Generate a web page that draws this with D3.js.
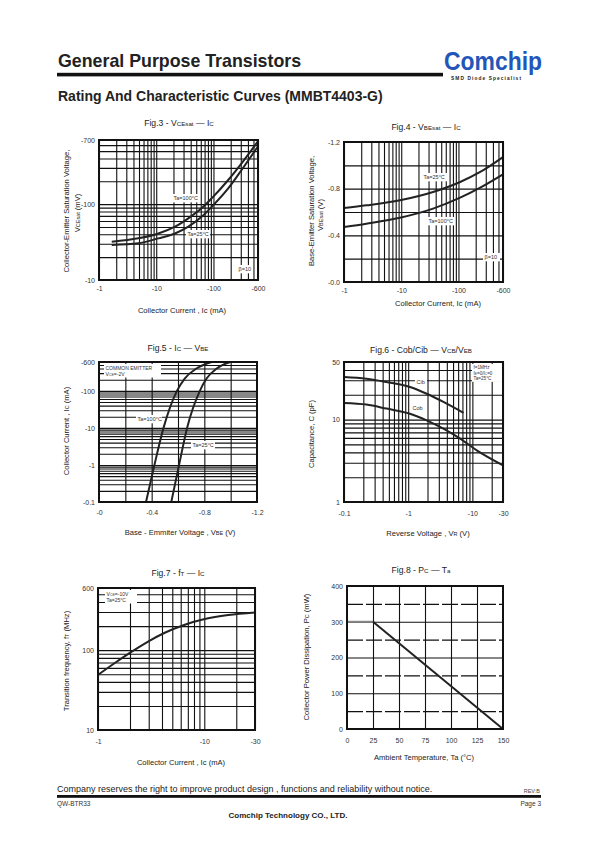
<!DOCTYPE html>
<html><head><meta charset="utf-8">
<script src="https://cdn.jsdelivr.net/npm/d3@7"></script>
<style>body{margin:0;background:#fff}svg{display:block;font-family:"Liberation Sans",Arial,sans-serif}</style>
</head><body><svg id="c" width="595" height="842"></svg>
<script>
// ---------- DATA ----------
// Fig.3 VCEsat vs Ic (magnitudes; mA, mV)
const fig3Ic = [1.67, 4.86, 10.9, 21.3, 36.4, 62, 93, 181, 310, 593];
const fig3V100 = [32, 35.4, 41, 50.5, 65, 88, 119, 208, 345, 665];
const fig3V25 = [28.9, 30.4, 35.4, 41, 50.5, 68, 92, 161, 282, 571];
const fig3XTicks = [1, 10, 100, 600];
const fig3XLabels = ["-1", "-10", "-100", "-600"];
const fig3YTicks = [10, 100, 700];
const fig3YLabels = ["-10", "-100", "-700"];
// Fig.4 VBEsat vs Ic (mA, V)
const fig4Ic = [1, 2.46, 9.5, 36, 107, 240, 600];
const fig4V25 = [0.634, 0.657, 0.70, 0.771, 0.857, 0.943, 1.071];
const fig4V100 = [0.471, 0.50, 0.551, 0.629, 0.723, 0.809, 0.923];
const fig4YTicks = [0, 0.4, 0.8, 1.2];
const fig4YLabels = ["-0.0", "-0.4", "-0.8", "-1.2"];
// Fig.5 Ic vs VBE (V, mA)
const fig5Ic = [0.1, 1, 10, 100, 215, 400, 600];
const fig5V100 = [0.357, 0.421, 0.49, 0.592, 0.651, 0.740, 0.855];
const fig5V25 = [0.549, 0.608, 0.669, 0.766, 0.817, 0.894, 0.996];
const fig5XTicks = [0, 0.4, 0.8, 1.2];
const fig5XLabels = ["-0", "-0.4", "-0.8", "-1.2"];
const fig5YTicks = [0.1, 1, 10, 100, 600];
const fig5YLabels = ["-0.1", "-1", "-10", "-100", "-600"];
// Fig.6 Capacitance vs reverse voltage (V, pF)
const fig6VCib = [0.1, 0.223, 0.459, 1.065, 1.94, 3.54, 7.27];
const fig6Cib = [32.9, 31.4, 28.6, 24.9, 20.6, 16.4, 12.1];
const fig6VCob = [0.1, 0.223, 0.459, 1.065, 1.94, 3.54, 6.45, 11.7, 30];
const fig6Cob = [15.9, 15.2, 13.6, 11.8, 9.8, 7.76, 5.87, 4.24, 2.79];
const fig6XTicks = [0.1, 1, 10, 30];
const fig6XLabels = ["-0.1", "-1", "-10", "-30"];
const fig6YTicks = [1, 10, 50];
const fig6YLabels = ["1", "10", "50"];
// Fig.7 fT vs Ic (mA, MHz)
const fig7Ic = [1, 1.44, 2.06, 2.96, 4.25, 6.56, 10.1, 16.8, 30];
const fig7fT = [49, 69, 95, 128, 165, 208, 245, 275, 296];
const fig7XTicks = [1, 10, 30];
const fig7XLabels = ["-1", "-10", "-30"];
const fig7YTicks = [10, 100, 600];
const fig7YLabels = ["10", "100", "600"];
// Fig.8 Pc vs Ta
const fig8Ta = [0, 25, 150];
const fig8Pc = [300, 300, 0];
const fig8XTicks = [0, 25, 50, 75, 100, 125, 150];
const fig8YTicks = [0, 100, 200, 300, 400];

// ---------- HELPERS ----------
const svg = d3.select('#c');
const FONT = '"Liberation Sans", Arial, sans-serif';

function logGrid(lo, hi) {
  const out = [];
  for (let e = Math.floor(Math.log10(lo)); e <= Math.ceil(Math.log10(hi)); e++) {
    for (let m = 1; m <= 9; m++) {
      const v = +(m * Math.pow(10, e)).toPrecision(6);
      if (v >= lo * 0.999 && v <= hi * 1.001) out.push(v);
    }
  }
  return out;
}
function rich(parent, x, y, parts, size, opts = {}) {
  const t = parent.append('text').attr('x', x).attr('y', y)
    .attr('font-size', size).attr('fill', opts.fill || '#222')
    .attr('text-anchor', opts.anchor || 'middle')
    .attr('font-weight', opts.weight || 'normal');
  if (opts.rotate) t.attr('transform', `rotate(-90,${x},${y})`);
  parts.forEach(p => {
    const s = typeof p === 'string' ? [p, 0] : p;
    const ts = t.append('tspan').text(s[0]);
    if (s[1]) ts.attr('font-size', size * 0.72);
  });
  return t;
}
function labelBox(g, x, y, lines, size, w) {
  const lh = size * 1.15;
  g.append('rect').attr('x', x).attr('y', y).attr('width', w)
    .attr('height', lines.length * lh + 2).attr('fill', '#fff');
  lines.forEach((ln, i) => rich(g, x + 1.5, y + (i + 1) * lh, ln, size, {anchor: 'start', fill: '#333'}));
}

function chart(o) {
  const g = svg.append('g');
  const x = (o.xlog ? d3.scaleLog() : d3.scaleLinear()).domain(o.xd).range([o.x0, o.x1]);
  const y = (o.ylog ? d3.scaleLog() : d3.scaleLinear()).domain(o.yd).range([o.y1, o.y0]);
  const W = o.x1 - o.x0, H = o.y1 - o.y0;
  g.append('g').attr('transform', `translate(0,${o.y1})`)
    .call(d3.axisBottom(x).tickValues(o.xgrid).tickSize(-H).tickFormat(''))
    .call(a => { a.select('.domain').remove(); a.selectAll('line').attr('stroke', '#111').attr('stroke-width', 1.1); });
  (o.ygridSets || [{vals: o.ygrid}]).forEach(set => {
    g.append('g').attr('transform', `translate(${o.x0},0)`)
      .call(d3.axisLeft(y).tickValues(set.vals).tickSize(-W).tickFormat(''))
      .call(a => { a.select('.domain').remove();
        a.selectAll('line').attr('stroke', '#111').attr('stroke-width', 1.1)
          .attr('stroke-dasharray', set.dash || null); });
  });
  g.append('g').attr('transform', `translate(0,${o.y1})`)
    .call(d3.axisBottom(x).tickValues(o.xt).tickSize(0).tickPadding(o.xpad || 6)
      .tickFormat((d, i) => o.xl[i]))
    .call(a => { a.select('.domain').remove();
      a.selectAll('text').attr('font-size', 7).attr('fill', '#333').attr('font-family', FONT); });
  g.append('g').attr('transform', `translate(${o.x0},0)`)
    .call(d3.axisLeft(y).tickValues(o.yt).tickSize(0).tickPadding(o.ypad || 4)
      .tickFormat((d, i) => o.yl[i]))
    .call(a => { a.select('.domain').remove();
      a.selectAll('text').attr('font-size', 7).attr('fill', '#333').attr('font-family', FONT); });
  (o.curves || []).forEach(c => {
    const pts = c.xs.map((v, i) => [v, c.ys[i]]);
    g.append('path').datum(pts)
      .attr('d', d3.line().x(d => x(d[0])).y(d => y(d[1])).curve(c.curve || d3.curveMonotoneX))
      .attr('fill', 'none').attr('stroke', c.color || '#222').attr('stroke-width', c.w || 2);
  });
  g.append('rect').attr('x', o.x0).attr('y', o.y0).attr('width', W).attr('height', H)
    .attr('fill', 'none').attr('stroke', '#111').attr('stroke-width', 2);
  rich(g, o.title.x, o.title.y, o.title.parts, 8.6);
  rich(g, o.xtitle.x, o.xtitle.y, o.xtitle.parts, 7.6);
  o.ytitles.forEach(t => rich(g, t.x, t.y, t.parts, 7.6, {rotate: true}));
  return {g, x, y};
}

// ---------- HEADER ----------
svg.append('text').attr('x', 58).attr('y', 67).attr('font-size', 17.8).attr('font-weight', 'bold')
  .attr('fill', '#222').text('General Purpose Transistors');
svg.append('rect').attr('x', 57).attr('y', 72.8).attr('width', 386).attr('height', 3.6).attr('fill', '#111');
svg.append('text').attr('x', 444).attr('y', 69.5).attr('font-size', 25).attr('font-weight', 'bold')
  .attr('fill', '#2356b8').attr('textLength', 98).attr('lengthAdjust', 'spacingAndGlyphs').text('Comchip');
svg.append('text').attr('x', 451).attr('y', 79.5).attr('font-size', 4.8).attr('font-weight', 'bold')
  .attr('fill', '#222').attr('textLength', 70).attr('lengthAdjust', 'spacing').text('SMD Diode Specialist');
svg.append('text').attr('x', 58).attr('y', 101).attr('font-size', 14).attr('font-weight', 'bold')
  .attr('fill', '#222').text('Rating And Characteristic Curves (MMBT4403-G)');

// ---------- FIG 3 ----------
const f3 = chart({
  x0: 99, x1: 258, y0: 140, y1: 280, xlog: true, ylog: true, xd: [1, 600], yd: [10, 700],
  xgrid: logGrid(1, 600), ygrid: logGrid(10, 700),
  xt: fig3XTicks, xl: fig3XLabels, yt: fig3YTicks, yl: fig3YLabels,
  curves: [{xs: fig3Ic, ys: fig3V100}, {xs: fig3Ic, ys: fig3V25}],
  title: {x: 179, y: 126, parts: ['Fig.3 - V', ['CEsat', 1], ' — I', ['C', 1]]},
  xtitle: {x: 182, y: 313, parts: ['Collector Current , Ic  (mA)']},
  ytitles: [{x: 69, y: 211, parts: ['Collector-Emitter Saturation Voltage,']},
            {x: 79.5, y: 213, parts: ['V', ['CEsat', 1], ' (mV)']}]
});
labelBox(f3.g, 172, 194, [['Ta=100°C']], 5.5, 26);
labelBox(f3.g, 186, 230, [['Ta=25°C']], 5.5, 24);
labelBox(f3.g, 237, 265, [['β=10']], 5.5, 16);

// ---------- FIG 4 ----------
const f4 = chart({
  x0: 344, x1: 503, y0: 142, y1: 282, xlog: true, ylog: false, xd: [1, 600], yd: [0, 1.2],
  xgrid: logGrid(1, 600), ygrid: [0.2, 0.4, 0.6, 0.8, 1.0],
  xt: fig3XTicks, xl: fig3XLabels, yt: fig4YTicks, yl: fig4YLabels,
  curves: [{xs: fig4Ic, ys: fig4V25}, {xs: fig4Ic, ys: fig4V100}],
  title: {x: 426, y: 130, parts: ['Fig.4 - V', ['BEsat', 1], ' — I', ['C', 1]]},
  xtitle: {x: 438, y: 306, parts: ['Collector Current, Ic (mA)']},
  ytitles: [{x: 314, y: 211, parts: ['Base-Emitter Saturation Voltage,']},
            {x: 323, y: 215, parts: ['V', ['BEsat', 1], ' (V)']}]
});
labelBox(f4.g, 422, 173, [['Ta=25°C']], 5.5, 25);
labelBox(f4.g, 427, 217, [['Ta=100°C']], 5.5, 28);
labelBox(f4.g, 483, 253, [['β=10']], 5.5, 17);

// ---------- FIG 5 ----------
const f5 = chart({
  x0: 99, x1: 257, y0: 362, y1: 502, xlog: false, ylog: true, xd: [0, 1.2], yd: [0.1, 600],
  xgrid: [0.2, 0.4, 0.6, 0.8, 1.0], ygrid: logGrid(0.1, 600),
  xt: fig5XTicks, xl: fig5XLabels, yt: fig5YTicks, yl: fig5YLabels, xpad: 8,
  curves: [{xs: fig5V100, ys: fig5Ic}, {xs: fig5V25, ys: fig5Ic}],
  title: {x: 178, y: 351, parts: ['Fig.5 - I', ['C', 1], ' — V', ['BE', 1]]},
  xtitle: {x: 180, y: 535, parts: ['Base - Emmiter Voltage , V', ['BE', 1], ' (V)']},
  ytitles: [{x: 69, y: 431, parts: ['Collector Current , I', ['C', 1], ' (mA)']}]
});
labelBox(f5.g, 104, 364, [['COMMON EMITTER'], ['V', ['CE', 1], '=-2V']], 5, 57);
labelBox(f5.g, 136, 415, [['Ta=100°C']], 5.5, 26);
labelBox(f5.g, 191, 441, [['Ta=25°C']], 5.5, 24);

// ---------- FIG 6 ----------
const f6 = chart({
  x0: 344, x1: 503, y0: 362, y1: 502, xlog: true, ylog: true, xd: [0.1, 30], yd: [1, 50],
  xgrid: logGrid(0.1, 30), ygrid: logGrid(1, 50),
  xt: fig6XTicks, xl: fig6XLabels, yt: fig6YTicks, yl: fig6YLabels, xpad: 9,
  curves: [{xs: fig6VCib, ys: fig6Cib}, {xs: fig6VCob, ys: fig6Cob}],
  title: {x: 421, y: 353, parts: ['Fig.6 - Cob/Cib — V', ['CB', 1], '/V', ['EB', 1]]},
  xtitle: {x: 428, y: 536, parts: ['Reverse Voltage , V', ['R', 1], ' (V)']},
  ytitles: [{x: 314, y: 434, parts: ['Capacitance, C (pF)']}]
});
labelBox(f6.g, 472, 364, [['f=1MHz'], ['I', ['E', 1], '=0/I', ['C', 1], '=0'], ['Ta=25°C']], 4.6, 30);
labelBox(f6.g, 415, 378, [['Cib']], 5.5, 12);
labelBox(f6.g, 411, 404, [['Cob']], 5.5, 14);

// ---------- FIG 7 ----------
const f7 = chart({
  x0: 98, x1: 255, y0: 588, y1: 730, xlog: true, ylog: true, xd: [1, 30], yd: [10, 600],
  xgrid: logGrid(1, 30), ygrid: logGrid(10, 600),
  xt: fig7XTicks, xl: fig7XLabels, yt: fig7YTicks, yl: fig7YLabels, xpad: 9,
  curves: [{xs: fig7Ic, ys: fig7fT}],
  title: {x: 178, y: 576, parts: ['Fig.7 - f', ['T', 1], ' — I', ['C', 1]]},
  xtitle: {x: 181, y: 765, parts: ['Collector Current , Ic  (mA)']},
  ytitles: [{x: 69, y: 661, parts: ['Transition frequency, f', ['T', 1], ' (MHz)']}]
});
labelBox(f7.g, 105, 590, [['V', ['CE', 1], '=-10V'], ['Ta=25°C']], 5, 32);

// ---------- FIG 8 ----------
const f8 = chart({
  x0: 347, x1: 503, y0: 586, y1: 729, xlog: false, ylog: false, xd: [0, 150], yd: [0, 400],
  xgrid: [25, 50, 75, 100, 125],
  ygridSets: [{vals: [100, 200, 300]}, {vals: [50, 150, 250, 350], dash: '16,3'}],
  xt: fig8XTicks, xl: fig8XTicks.map(String), yt: fig8YTicks, yl: fig8YTicks.map(String), xpad: 9,
  curves: [{xs: fig8Ta.slice(0, 2), ys: fig8Pc.slice(0, 2), curve: d3.curveLinear, color: '#888', w: 2},
           {xs: fig8Ta.slice(1), ys: fig8Pc.slice(1), curve: d3.curveLinear}],
  title: {x: 421, y: 573, parts: ['Fig.8 - P', ['C', 1], ' — T', ['a', 1]]},
  xtitle: {x: 424, y: 760, parts: ['Ambient Temperature, Ta (°C)']},
  ytitles: [{x: 309, y: 657, parts: ['Collector Power Dissipation, P', ['C', 1], ' (mW)']}]
});

// ---------- FOOTER ----------
svg.append('text').attr('x', 57).attr('y', 792).attr('font-size', 9).attr('fill', '#222')
  .text('Company reserves the right to improve product design , functions and reliability without notice.');
svg.append('text').attr('x', 540).attr('y', 793).attr('font-size', 5.5).attr('fill', '#444')
  .attr('text-anchor', 'end').text('REV:B');
svg.append('rect').attr('x', 57).attr('y', 795).attr('width', 484).attr('height', 2.8).attr('fill', '#111');
svg.append('text').attr('x', 57).attr('y', 806).attr('font-size', 6.5).attr('fill', '#333').text('QW-BTR33');
svg.append('text').attr('x', 541).attr('y', 806).attr('font-size', 6.5).attr('fill', '#333')
  .attr('text-anchor', 'end').text('Page 3');
svg.append('text').attr('x', 288).attr('y', 818).attr('font-size', 8).attr('font-weight', 'bold')
  .attr('fill', '#222').attr('text-anchor', 'middle').text('Comchip Technology CO., LTD.');
</script></body></html>
